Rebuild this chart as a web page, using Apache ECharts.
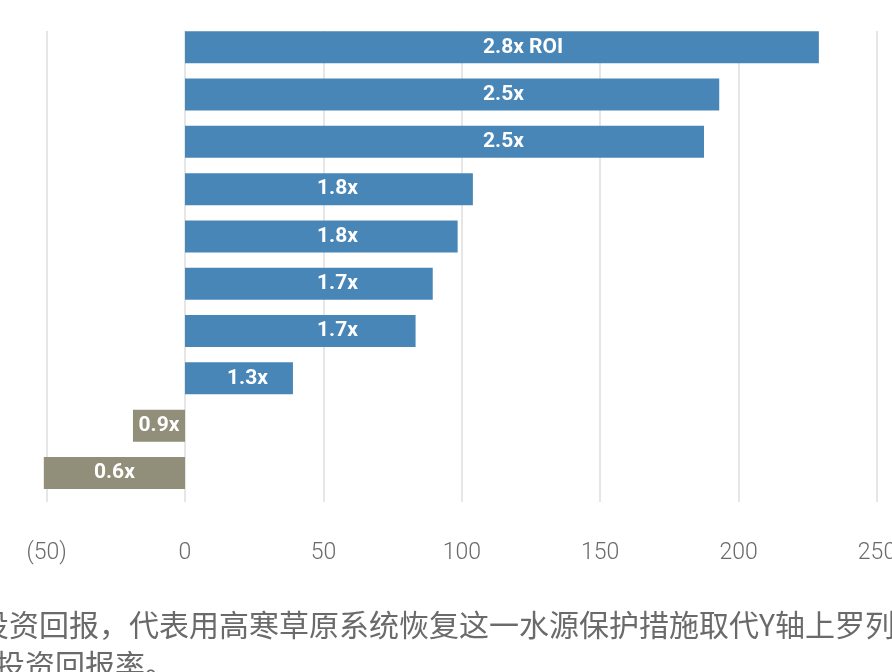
<!DOCTYPE html>
<html>
<head>
<meta charset="utf-8">
<script src="https://cdn.jsdelivr.net/npm/echarts@6/dist/echarts.min.js"></script>
<style>
html,body{margin:0;padding:0;background:#fff;overflow:hidden;}
#chart{width:892px;height:672px;}
</style>
</head>
<body>
<div id="chart"></div>
<script>
// ---- data ----
const categories = ['1', '2', '3', '4', '5', '6', '7', '8', '9', '10'];
const values = [229, 193, 187.5, 104, 98.5, 89.5, 83.3, 39, -18.8, -51];
const roiLabels = ['2.8x ROI', '2.5x', '2.5x', '1.8x', '1.8x', '1.7x', '1.7x', '1.3x', '0.9x', '0.6x'];
const xTicks = [-50, 0, 50, 100, 150, 200, 250];
const captionLines = ['投资回报，代表用高寒草原系统恢复这一水源保护措施取代Y轴上罗列', '投资回报率。'];

// ---- styles ----
const BLUE = '#4886b8';
const GREY = '#918e79';
const labelInset = [298, 298, 298, 132, 132, 132, 132, 42, null, null];
const captionX = [-21, -5];
const captionY = [625, 665];

const seriesData = values.map((v, i) => ({
  value: v,
  itemStyle: { color: v >= 0 ? BLUE : GREY },
  label: labelInset[i] != null
    ? { position: 'insideLeft', distance: labelInset[i] }
    : { position: 'inside' }
}));

const chart = echarts.init(document.getElementById('chart'), null, { renderer: 'canvas' });
const PX = 2.768; // px per unit (used only to align the two grids)
const zeroX = 185;
const rightEdge = 892 - (zeroX + 250 * PX);

chart.setOption({
  animation: false,
  backgroundColor: '#fff',
  grid: [
    { left: zeroX - 50 * PX, right: rightEdge, top: 31, height: 471, outerBoundsMode: 'none', containLabel: false },
    { left: zeroX - 60 * PX, right: rightEdge, top: 23.6, height: 473, outerBoundsMode: 'none', containLabel: false }
  ],
  xAxis: [
    {
      gridIndex: 0, type: 'value', min: -50, max: 250, interval: 50,
      axisLine: { show: false }, axisTick: { show: false },
      splitLine: { show: true, lineStyle: { color: '#dedede', width: 1.5 } },
      axisLabel: {
        margin: 40, color: '#6a6a6a', fontSize: 23, fontWeight: 300,
        fontFamily: 'Roboto, "Noto Sans", sans-serif',
        hideOverlap: false,
        formatter: v => (xTicks.includes(v) ? (v < 0 ? '(' + Math.abs(v) + ')' : String(v)) : '')
      }
    },
    {
      gridIndex: 1, type: 'value', min: -60, max: 250,
      axisLine: { show: false }, axisTick: { show: false },
      splitLine: { show: false }, axisLabel: { show: false }
    }
  ],
  yAxis: [
    {
      gridIndex: 0, type: 'category', data: categories, inverse: true,
      axisLine: { show: false }, axisTick: { show: false }, axisLabel: { show: false }, splitLine: { show: false }
    },
    {
      gridIndex: 1, type: 'category', data: categories, inverse: true,
      axisLine: { show: false }, axisTick: { show: false }, axisLabel: { show: false }, splitLine: { show: false }
    }
  ],
  series: [
    {
      type: 'bar', xAxisIndex: 1, yAxisIndex: 1,
      data: seriesData, barWidth: 32,
      label: {
        show: true, color: '#fff', fontSize: 21, fontWeight: 'bold',
        fontFamily: 'Roboto, "Noto Sans", sans-serif',
        formatter: p => roiLabels[p.dataIndex]
      }
    }
  ],
  graphic: captionLines.map((t, i) => ({
    type: 'text', x: captionX[i], y: captionY[i],
    style: { text: t, fill: '#6a6a6a', fontSize: 30, verticalAlign: 'middle', align: 'left', fontFamily: '"Noto Sans CJK SC", sans-serif' }
  }))
});
</script>
</body>
</html>
